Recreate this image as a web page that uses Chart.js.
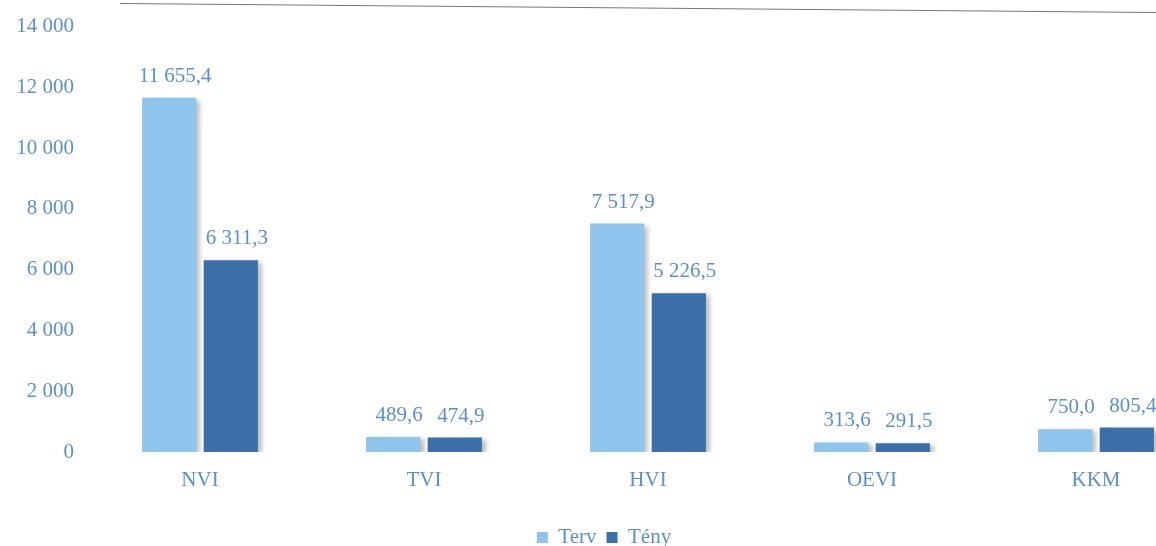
<!DOCTYPE html>
<html>
<head>
<meta charset="utf-8">
<script src="https://cdn.jsdelivr.net/npm/chart.js@4/dist/chart.umd.min.js"></script>
<style>
  html, body { margin: 0; padding: 0; background: #fff; overflow: hidden; }
  #wrap { position: relative; width: 1208px; height: 546px; }
  #topline { position: absolute; left: 120px; top: 3px; width: 1040px; height: 0; border-top: 1.5px solid #777; transform: rotate(0.5deg); transform-origin: left top; }
</style>
</head>
<body>
<div id="wrap">
  <div id="topline"></div>
  <canvas id="chart" width="1208" height="546"></canvas>
</div>
<script>
const categories = ['NVI', 'TVI', 'HVI', 'OEVI', 'KKM'];
const tervValues = [11655.4, 489.6, 7517.9, 313.6, 750.0];
const tenyValues = [6311.3, 474.9, 5226.5, 291.5, 805.4];
const yTicks = [0, 2000, 4000, 6000, 8000, 10000, 12000, 14000];

const textColor = '#5b8fcf';
const fontFamily = '"Liberation Serif", "DejaVu Serif", serif';

// szám formázása: ezres szóköz, tizedes vessző
function fmt(v, dec) {
    const parts = v.toFixed(dec).split('.');
    const intPart = parts[0].replace(/\B(?=(\d{3})+(?!\d))/g, ' ');
    return parts.length > 1 ? intPart + ',' + parts[1] : intPart;
}

const shadowPlugin = {
    id: 'barShadow',
    beforeDatasetsDraw(chart) {
        const ctx = chart.ctx;
        ctx.save();
        ctx.shadowColor = 'rgba(0,0,0,0.28)';
        ctx.shadowBlur = 5;
        ctx.shadowOffsetX = 4;
        ctx.shadowOffsetY = 2;
    },
    afterDatasetsDraw(chart) {
        chart.ctx.restore();
    }
};

const labelPlugin = {
    id: 'valueLabels',
    afterDatasetsDraw(chart) {
        const ctx = chart.ctx;
        ctx.save();
        ctx.font = '21px ' + fontFamily;
        ctx.fillStyle = textColor;
        ctx.textAlign = 'center';
        ctx.textBaseline = 'bottom';
        chart.data.datasets.forEach((ds, i) => {
            chart.getDatasetMeta(i).data.forEach((bar, j) => {
                ctx.fillText(fmt(ds.data[j], 1), bar.x + 6, bar.y - 11);
            });
        });
        ctx.restore();
    }
};

new Chart(document.getElementById('chart'), {
    type: 'bar',
    data: {
        labels: categories,
        datasets: [
            { label: 'Terv', data: tervValues, backgroundColor: '#8fc4ec' },
            { label: 'Tény', data: tenyValues, backgroundColor: '#3a6fa8' }
        ]
    },
    options: {
        responsive: false,
        animation: false,
        layout: { padding: { top: 22, right: 0, left: 0, bottom: -12 } },
        datasets: {
            bar: { categoryPercentage: 0.55, barPercentage: 0.88 }
        },
        scales: {
            x: {
                grid: { display: false, drawTicks: false },
                border: { display: false },
                ticks: { color: textColor, font: { family: fontFamily, size: 21 }, padding: 16 },
                afterFit: (axis) => { axis.height = 65; }
            },
            y: {
                min: 0,
                max: 14000,
                afterBuildTicks: (axis) => { axis.ticks = yTicks.map(v => ({ value: v })); },
                grid: { display: false, drawTicks: false },
                border: { display: false },
                ticks: {
                    color: textColor,
                    font: { family: fontFamily, size: 21 },
                    padding: 14,
                    callback: (v) => fmt(v, 0)
                },
                afterFit: (axis) => { axis.width = 88; }
            }
        },
        plugins: {
            legend: {
                position: 'bottom',
                labels: {
                    color: textColor,
                    font: { family: fontFamily, size: 21 },
                    boxWidth: 11,
                    boxHeight: 11,
                    padding: 10
                }
            },
            tooltip: { enabled: false }
        }
    },
    plugins: [shadowPlugin, labelPlugin]
});
</script>
</body>
</html>
